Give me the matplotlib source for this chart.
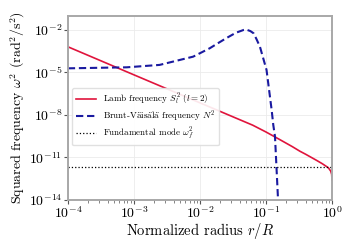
import matplotlib
matplotlib.use("Agg")
import matplotlib.pyplot as plt
import numpy as np

# Lamb frequency S_l^2 (l=2)
lamb_r = [1e-4, 1e-3, 1e-2, 0.0316, 0.063, 0.1, 0.158, 0.251, 0.327, 0.398,
          0.586, 0.708, 0.879, 0.955, 0.9886, 1.0]
lamb_s2 = [6.5e-4, 6.8e-6, 7.2e-8, 7.4e-9, 1.9e-9, 6.3e-10, 1.95e-10, 5.8e-11, 2.75e-11,
           1.7e-11, 6.2e-12, 3.7e-12, 1.9e-12, 1.1e-12, 6.5e-13, 2.5e-13]

# Brunt-Vaisala frequency N^2
bv_r = [1e-4, 7.8e-4, 2.45e-3, 7.9e-3, 1.41e-2, 1.9e-2, 2.5e-2, 3.5e-2, 4.6e-2, 5.0e-2,
        5.8e-2, 6.5e-2, 7.2e-2, 8.1e-2, 0.102, 0.122, 0.129, 0.137, 0.152, 0.155]
bv_n2 = [1.95e-5, 2.3e-5, 3.4e-5, 1.3e-4, 5.1e-4, 1.2e-3, 2.6e-3, 6.3e-3, 1.0e-2, 1.07e-2,
         8.3e-3, 5.8e-3, 2.2e-3, 6.6e-4, 1.5e-5, 2.2e-8, 2e-9, 3e-10, 1.3e-14, 1e-16]

# Fundamental mode
omega_f2 = 2e-12

plt.rcParams['font.family'] = ['cmr10', 'DejaVu Serif']
plt.rcParams['mathtext.fontset'] = 'cm'
plt.rcParams['axes.unicode_minus'] = False
plt.rcParams['axes.formatter.use_mathtext'] = True

fig = plt.figure(figsize=(3.57, 2.5), dpi=100)
ax = fig.add_axes([0.19, 0.2, 0.74, 0.737])

ax.plot(lamb_r, lamb_s2, color='#e0143c', lw=1.2, label=r'Lamb frequency $S_l^2$ ($l=2$)')
ax.plot(bv_r, bv_n2, color='#1a1aa0', lw=1.5, ls=(0, (3.5, 1.8)),
        label=r'Brunt-V$\ddot{\rm a}$is$\ddot{\rm a}$l$\ddot{\rm a}$ frequency $N^2$')
ax.axhline(omega_f2, color='black', lw=0.9, ls=':', label=r'Fundamental mode $\omega_f^2$')

ax.set_xscale('log')
ax.set_yscale('log')
ax.set_xlim(1e-4, 1)
ax.set_ylim(1e-14, 1e-1)
ax.set_yticks([1e-14, 1e-11, 1e-8, 1e-5, 1e-2])
ax.yaxis.set_minor_locator(matplotlib.ticker.NullLocator())

ax.grid(True, which='major', color='#ebebeb', lw=0.6)
for s in ax.spines.values():
    s.set_color('#a8a8a8')
    s.set_linewidth(1.4)
ax.tick_params(axis='both', which='major', labelsize=10, length=3, width=0.8, color='#555555', pad=1)
ax.tick_params(axis='x', which='minor', length=2, width=0.5, color='#555555')

ax.set_xlabel(r'Normalized radius $r/R$', fontsize=10.5, labelpad=0)
ax.set_ylabel(r'Squared frequency $\omega^2$ (rad$^2$/s$^2$)', fontsize=10, labelpad=1)

leg = ax.legend(loc='upper left', bbox_to_anchor=(0.0, 0.63), fontsize=6.5, frameon=True,
                framealpha=0.9, edgecolor='#dddddd', handlelength=2.3, borderpad=0.35,
                labelspacing=0.2, handletextpad=0.8)

fig.savefig('out.png', dpi=100)
